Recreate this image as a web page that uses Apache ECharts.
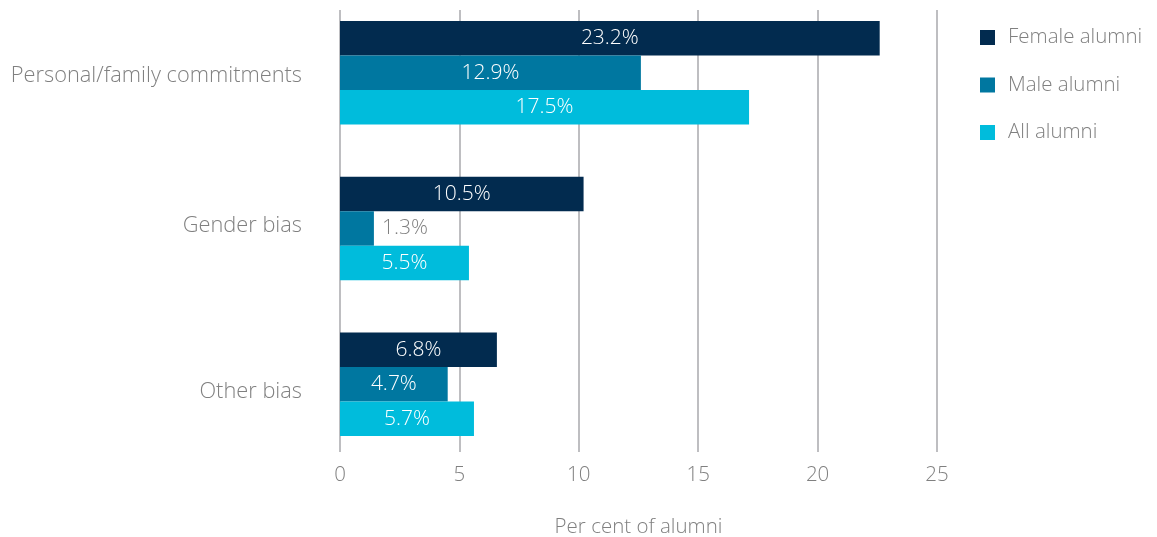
<!DOCTYPE html>
<html>
<head>
<meta charset="utf-8">
<script src="https://cdn.jsdelivr.net/npm/echarts@6/dist/echarts.min.js"></script>
<style>
  html, body { margin: 0; padding: 0; background: #fff; overflow: hidden; }
  /* taller box pulled up a little so the top bar band can start above the page edge */
  #chart { width: 1157px; height: 547px; margin-top: -10px; }
</style>
</head>
<body>
<div id="chart"></div>
<script>
// categories, top to bottom
const categories = ['Personal/family commitments', 'Gender bias', 'Other bias']
const seriesNames = ['Female alumni', 'Male alumni', 'All alumni']

// bar lengths as drawn in the picture
const femaleValues = [22.6, 10.2, 6.57]
const maleValues = [12.6, 1.42, 4.51]
const allValues = [17.13, 5.4, 5.61]

// printed labels (they differ slightly from the drawn lengths)
const femaleLabels = ['23.2%', '10.5%', '6.8%']
const maleLabels = ['12.9%', '1.3%', '4.7%']
const allLabels = ['17.5%', '5.5%', '5.7%']

const xTicks = [0, 5, 10, 15, 20, 25]

const colors = ['#022b4f', '#0077a0', '#00bcdc']
const fontFamily = '"Open Sans", Roboto, sans-serif'
const grey = '#808080'

const chart = echarts.init(document.getElementById('chart'))

const makeSeries = (name, values, labels, color) => ({
  name: name,
  type: 'bar',
  xAxisIndex: 1,
  yAxisIndex: 1,
  barWidth: 34.5,
  barGap: '0%',
  itemStyle: { color: color },
  data: values.map((v, i) => {
    // short bar -> label outside in grey
    const outside = v < 3
    return {
      value: v,
      label: {
        show: true,
        position: outside ? 'right' : 'inside',
        distance: 8,
        formatter: labels[i],
        color: outside ? grey : '#ffffff',
        fontSize: 21,
        fontWeight: 300,
        fontFamily: fontFamily,
      },
    }
  }),
})

// category label styles (the original labels sit slightly off the band centres)
const catText = { color: grey, fontSize: 21.8, fontWeight: 300, fontFamily: fontFamily }
const catRich = {
  c0: Object.assign({ padding: [5, 0, 0, 0] }, catText),
  c1: Object.assign({ padding: [0, 0, 6, 0] }, catText),
  c2: Object.assign({ padding: [16, 0, 0, 0] }, catText),
}

const option = {
  animation: false,
  color: colors,
  legend: {
    orient: 'vertical',
    left: 975,
    top: 32,
    icon: 'rect',
    itemWidth: 15,
    itemHeight: 15,
    itemGap: 26.5,
    data: seriesNames,
    textStyle: { color: grey, fontSize: 20.5, fontWeight: 300, fontFamily: fontFamily, padding: [0, 0, 0, 8] },
  },
  grid: [
    // axis / gridline area
    { left: 340, right: 220, top: 20, bottom: 85, outerBoundsMode: 'none' },
    // bar area
    { left: 340, right: 220, top: 5, height: 467, outerBoundsMode: 'none' },
  ],
  xAxis: [
    {
      gridIndex: 0,
      type: 'value',
      min: xTicks[0],
      max: xTicks[xTicks.length - 1],
      interval: 5,
      name: 'Per cent of alumni',
      nameLocation: 'middle',
      nameGap: 65,
      nameTextStyle: { color: grey, fontSize: 20.5, fontWeight: 300, fontFamily: fontFamily },
      axisLine: { show: false },
      axisTick: { show: false },
      axisLabel: { color: grey, fontSize: 20.5, fontWeight: 300, fontFamily: fontFamily, margin: 13 },
      splitLine: { show: true, lineStyle: { color: '#a8a8ac', width: 1.5 } },
    },
    {
      gridIndex: 1,
      type: 'value',
      min: xTicks[0],
      max: xTicks[xTicks.length - 1],
      show: false,
      splitLine: { show: false },
    },
  ],
  yAxis: [
    {
      gridIndex: 0,
      type: 'category',
      data: categories,
      show: false,
    },
    {
      gridIndex: 1,
      type: 'category',
      inverse: true,
      data: categories,
      axisLine: { show: false },
      axisTick: { show: false },
      axisLabel: Object.assign({
        margin: 38,
        formatter: (v, i) => `{c${i}|${v}}`,
        rich: catRich,
      }, catText),
    },
  ],
  series: [
    makeSeries(seriesNames[0], femaleValues, femaleLabels, colors[0]),
    makeSeries(seriesNames[1], maleValues, maleLabels, colors[1]),
    makeSeries(seriesNames[2], allValues, allLabels, colors[2]),
  ],
}

chart.setOption(option)
</script>
</body>
</html>
